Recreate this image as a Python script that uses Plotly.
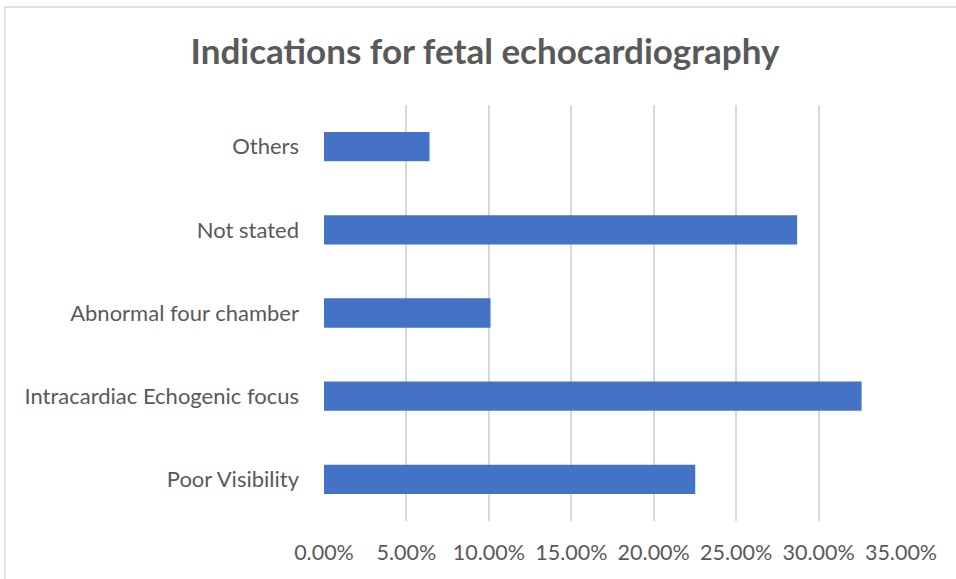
import plotly.graph_objects as go

categories = ["Poor Visibility", "Intracardiac Echogenic focus", "Abnormal four chamber", "Not stated", "Others"]
values = [0.2252, 0.3261, 0.1010, 0.2870, 0.0640]
tick_vals = [0, 0.05, 0.10, 0.15, 0.20, 0.25, 0.30, 0.35]

L, R, T, B = 324, 55, 105, 58
W, H = 956, 579
pw, ph = W - L - R, H - T - B

fig = go.Figure(go.Bar(
    y=categories, x=values, orientation="h",
    marker=dict(color="#4472C4", line=dict(width=0)),
))

bx = (5 - L) / pw
by = 1 + (T - 7) / ph
fig.add_shape(type="path", xref="paper", yref="paper",
              path=f"M {bx} -0.3 L {bx} {by} L 1.3 {by}",
              line=dict(color="#d9d9d9", width=1.5))

fig.update_layout(
    width=W, height=H,
    margin=dict(l=L, r=R, t=T, b=B),
    paper_bgcolor="white", plot_bgcolor="white",
    bargap=0.648,
    showlegend=False,
    title=dict(text="<b>Indications for fetal echocardiography</b>",
               x=485 / W, xanchor="center", y=1 - 52 / H, yanchor="middle",
               font=dict(family="Lato", size=35, color="#595959")),
    font=dict(family="Lato", color="#595959"),
)
fig.update_xaxes(range=[0, 0.35], tickvals=tick_vals, tickformat=".2%",
                 showgrid=True, gridcolor="#d9d9d9", gridwidth=1.5,
                 zeroline=False, showline=False,
                 tickfont=dict(size=21.5, color="#595959"), ticks="",
                 ticklabelstandoff=16)
fig.update_yaxes(showgrid=False, zeroline=False, showline=False, ticks="",
                 tickfont=dict(size=22, color="#595959"),
                 ticklabelstandoff=24)

fig.write_html("out.html", config={"displayModeBar": False},
               post_script="document.body.style.margin='0';document.body.style.overflow='hidden';")
